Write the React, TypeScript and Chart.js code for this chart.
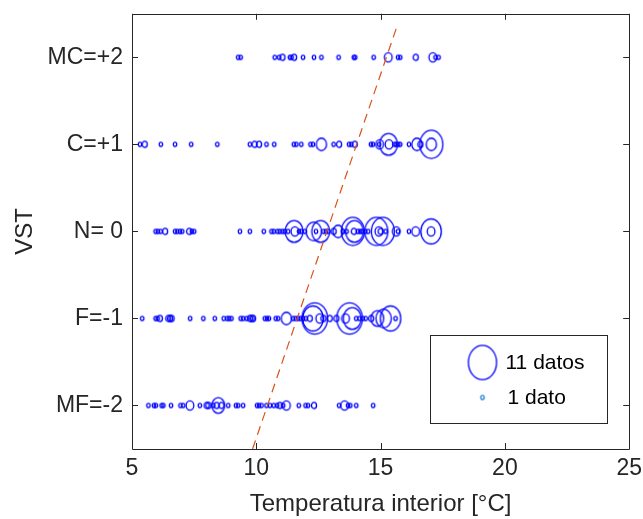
import React, { useEffect, useRef } from 'react';
import { Chart, registerables } from 'chart.js';

Chart.register(...registerables);

// Categories (VST scale)
const categoryValues = [2, 1, 0, -1, -2];
const categoryLabels = ['MC=+2', 'C=+1', 'N= 0', 'F=-1', 'MF=-2'];
const xTickValues = [5, 10, 15, 20, 25];

// MC = +2
const mcTemps = [9.27, 9.37, 10.74, 10.92, 11.05, 11.35, 11.42, 11.52, 11.88, 12.32, 12.62, 13.31, 13.92, 13.98, 14.72, 15.31, 15.7, 15.79, 16.41, 17.1, 17.21, 17.33];
const mcCounts = [1, 1, 1, 1, 2, 1, 1, 2, 1, 1, 1, 1, 1, 1, 1, 3, 1, 1, 2, 3, 1, 1];

// C = +1
const cTemps = [5.32, 5.51, 6.16, 6.73, 7.38, 8.43, 9.74, 9.93, 10.11, 10.41, 10.72, 11.51, 11.61, 11.81, 12.18, 12.28, 12.62, 13.11, 13.33, 13.73, 13.82, 13.96, 14.61, 14.69, 14.94, 14.96, 15.32, 15.34, 15.56, 15.63, 15.71, 15.79, 16.14, 16.46, 16.6, 17.04, 17.04];
const cCounts = [1, 2, 1, 1, 1, 1, 1, 2, 2, 1, 1, 1, 1, 1, 1, 1, 4, 1, 2, 1, 1, 2, 1, 1, 1, 3, 7, 3, 1, 1, 1, 1, 1, 4, 2, 9, 4];

// N = 0
const nTemps = [5.95, 6.04, 6.15, 6.33, 6.73, 6.82, 6.93, 7.02, 7.3, 7.41, 7.5, 9.34, 9.74, 10.3, 10.61, 10.7, 10.85, 10.94, 11.05, 11.14, 11.28, 11.52, 11.55, 11.72, 11.81, 11.95, 12.31, 12.4, 12.59, 12.7, 12.8, 12.9, 13.11, 13.29, 13.49, 13.63, 13.88, 13.95, 13.92, 14.09, 14.18, 14.26, 14.38, 14.5, 14.83, 14.93, 15.0, 15.09, 15.2, 15.63, 15.7, 16.14, 16.41, 17.03, 17.03];
const nCounts = [1, 1, 1, 2, 1, 1, 1, 1, 2, 1, 1, 1, 1, 1, 1, 1, 1, 1, 1, 1, 1, 7, 3, 1, 1, 1, 6, 1, 7, 1, 1, 1, 2, 4, 1, 1, 9, 7, 2, 1, 1, 1, 1, 1, 9, 3, 2, 9, 1, 3, 1, 1, 3, 8, 3];

// F = -1
const fTemps = [5.41, 5.95, 6.03, 6.12, 6.46, 6.53, 6.59, 7.34, 7.87, 8.33, 8.69, 8.83, 8.91, 9.0, 9.37, 9.47, 9.61, 9.74, 9.81, 9.87, 10.34, 10.43, 10.51, 10.78, 10.88, 11.21, 11.48, 11.58, 11.68, 11.78, 11.88, 11.99, 12.15, 12.28, 12.35, 12.55, 12.7, 12.95, 13.22, 13.59, 13.75, 13.86, 14.02, 14.15, 14.28, 14.4, 14.62, 14.87, 15.12, 15.4, 15.6];
const fCounts = [1, 1, 1, 2, 2, 2, 2, 1, 1, 1, 1, 1, 1, 1, 1, 1, 1, 2, 2, 2, 1, 1, 1, 1, 1, 4, 1, 1, 1, 1, 1, 1, 2, 8, 10, 3, 2, 2, 2, 3, 10, 7, 1, 1, 1, 1, 2, 5, 6, 8, 1];

// MF = -2
const mfTemps = [5.66, 5.88, 5.96, 6.19, 6.26, 6.57, 6.95, 7.06, 7.33, 7.73, 8.0, 8.07, 8.27, 8.4, 8.47, 8.6, 8.87, 9.18, 9.27, 9.47, 10.03, 10.11, 10.21, 10.41, 10.55, 10.7, 10.84, 10.94, 11.08, 11.21, 11.71, 11.98, 12.08, 12.32, 13.33, 13.55, 13.69, 13.78, 14.02, 14.7];
const mfCounts = [1, 1, 1, 1, 1, 1, 1, 1, 3, 1, 2, 2, 1, 2, 5, 2, 1, 1, 1, 1, 1, 1, 1, 1, 1, 1, 1, 2, 1, 3, 1, 1, 1, 2, 1, 3, 1, 1, 1, 1];

// Dashed trend line
const trendX = [9.85, 15.7];
const trendY = [-2.5, 2.39];

// Legend
const legendLabels = ['11 datos', '1 dato'];
const legendCounts = [11, 1];

const BUBBLE_COLOR = '#0000ff';
const LEGEND_SMALL_COLOR = '#1f7fd6';
const AXIS_COLOR = '#262626';
const FONT = '"Liberation Sans", Arial, Helvetica, sans-serif';

const ellipseCache = new Map<string, HTMLCanvasElement>();
function radiusFor(n: number) {
  return Math.max(1.7, 1.28 * n);
}
function ellipseCanvas(n: number, color: string): HTMLCanvasElement {
  const key = n + '|' + color;
  const hit = ellipseCache.get(key);
  if (hit) return hit;
  const rx = radiusFor(n);
  const ry = rx * 1.22;
  const c = document.createElement('canvas');
  const w = 2 * Math.ceil(rx + 2);
  const h = 2 * Math.ceil(ry + 2);
  c.width = w;
  c.height = h;
  const g = c.getContext('2d')!;
  g.strokeStyle = color;
  g.lineWidth = 1.3;
  g.beginPath();
  g.ellipse(w / 2, h / 2, rx, ry, 0, 0, Math.PI * 2);
  g.stroke();
  ellipseCache.set(key, c);
  return c;
}

const rows = [
  { y: categoryValues[0], temps: mcTemps, counts: mcCounts },
  { y: categoryValues[1], temps: cTemps, counts: cCounts },
  { y: categoryValues[2], temps: nTemps, counts: nCounts },
  { y: categoryValues[3], temps: fTemps, counts: fCounts },
  { y: categoryValues[4], temps: mfTemps, counts: mfCounts },
];

const framePlugin = {
  id: 'matlabFrame',
  afterDraw(chart: any) {
    const { ctx, chartArea: a, scales } = chart;
    const xs = scales.x;
    const ys = scales.y;
    const tl = 6;
    ctx.save();
    ctx.strokeStyle = AXIS_COLOR;
    ctx.lineWidth = 1;
    ctx.beginPath();
    ctx.rect(Math.round(a.left) + 0.5, Math.round(a.top) + 0.5, Math.round(a.right - a.left), Math.round(a.bottom - a.top));
    ctx.stroke();
    ctx.beginPath();
    xTickValues.forEach((v) => {
      const px = Math.round(xs.getPixelForValue(v)) + 0.5;
      ctx.moveTo(px, a.bottom);
      ctx.lineTo(px, a.bottom - tl);
      ctx.moveTo(px, a.top);
      ctx.lineTo(px, a.top + tl);
    });
    categoryValues.forEach((v) => {
      const py = Math.round(ys.getPixelForValue(v)) + 0.5;
      ctx.moveTo(a.left, py);
      ctx.lineTo(a.left + tl, py);
      ctx.moveTo(a.right, py);
      ctx.lineTo(a.right - tl, py);
    });
    ctx.stroke();

    // legend box
    const bx = Math.round(a.right - 199) + 0.5;
    const by = Math.round(a.bottom - 114) + 0.5;
    const bw = 177;
    const bh = 88;
    ctx.fillStyle = '#ffffff';
    ctx.fillRect(bx, by, bw, bh);
    ctx.strokeStyle = AXIS_COLOR;
    ctx.strokeRect(bx, by, bw, bh);
    const markerX = bx + 52;
    const rowY = [by + 27, by + 62];
    ctx.font = '21px ' + FONT;
    ctx.fillStyle = '#000000';
    ctx.textBaseline = 'middle';
    ctx.textAlign = 'left';
    legendLabels.forEach((label, i) => {
      const img = ellipseCanvas(legendCounts[i], i === 0 ? BUBBLE_COLOR : LEGEND_SMALL_COLOR);
      ctx.drawImage(img, markerX - img.width / 2, rowY[i] - img.height / 2);
      ctx.fillText(label, bx + 75 + (i === 1 ? 2 : 0), rowY[i] + 1);
    });
    ctx.restore();
  },
};

export default function App() {
  const canvasRef = useRef<HTMLCanvasElement | null>(null);

  useEffect(() => {
    document.body.style.margin = '0';
    const canvas = canvasRef.current;
    if (!canvas) return;

    const bubbleSets = rows.map((r) => ({
      type: 'scatter' as const,
      data: r.temps.map((t, i) => ({ x: t, y: r.y, n: r.counts[i] })),
      pointStyle: (c: any) => ellipseCanvas(c.raw ? c.raw.n : 1, BUBBLE_COLOR),
      pointRadius: (c: any) => radiusFor(c.raw ? c.raw.n : 1),
      borderColor: BUBBLE_COLOR,
      backgroundColor: 'rgba(0,0,0,0)',
      showLine: false,
      clip: 0,
    }));

    const trendSet = {
      type: 'line' as const,
      data: trendX.map((x, i) => ({ x, y: trendY[i] })),
      borderColor: '#D95319',
      borderWidth: 1.2,
      borderDash: [9, 6],
      pointRadius: 0,
      showLine: true,
      fill: false,
      tension: 0,
    };

    const chart = new Chart(canvas, {
      type: 'scatter',
      data: { datasets: [trendSet as any, ...bubbleSets] },
      options: {
        responsive: false,
        animation: false,
        devicePixelRatio: 1,
        layout: { padding: { top: 12, right: 13, left: 0, bottom: 0 } },
        plugins: { legend: { display: false }, tooltip: { enabled: false } },
        scales: {
          x: {
            type: 'linear',
            min: 5,
            max: 25,
            grid: { display: false, drawTicks: false },
            border: { display: false },
            afterFit: (s: any) => {
              s.height = 70;
              s.paddingLeft = 0;
              s.paddingRight = 0;
            },
            afterBuildTicks: (s: any) => { s.ticks = xTickValues.map((v) => ({ value: v })); },
            ticks: {
              autoSkip: false,
              maxRotation: 0,
              padding: 6,
              color: AXIS_COLOR,
              font: { family: FONT, size: 23 },
            },
            title: {
              display: true,
              text: 'Temperatura interior [°C]',
              color: AXIS_COLOR,
              font: { family: FONT, size: 24 },
              padding: { top: 0, bottom: 0 },
            },
          },
          y: {
            type: 'linear',
            min: -2.5,
            max: 2.5,
            grid: { display: false, drawTicks: false },
            border: { display: false },
            afterFit: (s: any) => {
              s.width = 132;
              s.paddingTop = 0;
              s.paddingBottom = 0;
            },
            afterBuildTicks: (s: any) => { s.ticks = categoryValues.map((v) => ({ value: v })); },
            ticks: {
              autoSkip: false,
              padding: 9,
              color: AXIS_COLOR,
              font: { family: FONT, size: 23 },
              callback: (v: any) => {
                const i = categoryValues.indexOf(Number(v));
                return i >= 0 ? categoryLabels[i] : '';
              },
            },
            title: {
              display: true,
              text: 'VST',
              color: AXIS_COLOR,
              font: { family: FONT, size: 24 },
              padding: { top: 11, bottom: 0 },
            },
          },
        },
      },
      plugins: [framePlugin],
    });

    return () => chart.destroy();
  }, []);

  return (
    <div style={{ width: 643, height: 519, background: '#fff' }}>
      <canvas ref={canvasRef} width={643} height={519} style={{ display: 'block' }} />
    </div>
  );
}
